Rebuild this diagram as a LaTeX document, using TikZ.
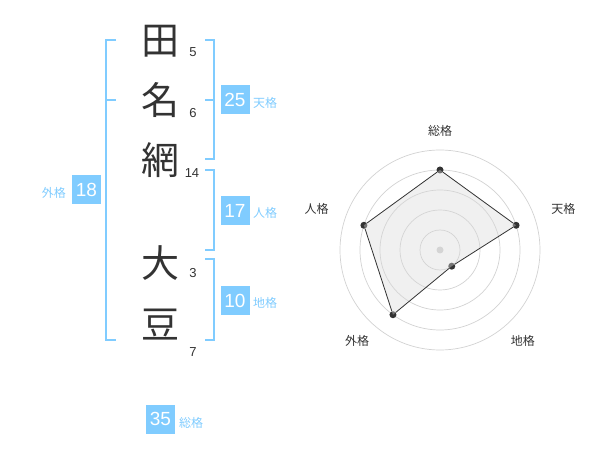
\documentclass[tikz,border=0pt]{standalone}
\usepackage{fontspec}
\setmainfont{Liberation Sans}
\newfontfamily\jp{Noto Sans CJK JP}
\definecolor{kakublue}{RGB}{128,204,255}
\definecolor{ink}{RGB}{51,51,51}
\definecolor{ring}{RGB}{210,210,210}
\begin{document}
\begin{tikzpicture}
  [x=1pt,y=-1pt,
   char/.style={font=\jp\fontsize{38}{38}\selectfont,text=ink,inner sep=0pt},
   strokes/.style={font=\fontsize{13}{13}\selectfont,text=ink,inner sep=0pt},
   kakubox/.style={fill=kakublue,text=white,minimum size=29pt,inner sep=0pt,font=\fontsize{19}{19}\selectfont},
   kakuname/.style={text=kakublue,font=\jp\fontsize{12}{12}\selectfont,inner sep=0pt},
   brace/.style={draw=kakublue,line width=1.6pt},
   axisname/.style={font=\jp\fontsize{12}{12}\selectfont,text=ink,inner sep=0pt},
   dot/.style={circle,fill=ink,inner sep=0pt,minimum size=7pt}]
  \useasboundingbox (0,0) rectangle (600,470);

  % name
  \node[char] (c1) at (160,41) {田};
  \node[char] (c2) at (160,100) {名};
  \node[char] (c3) at (160,160) {網};
  \node[char] (c4) at (160,263) {大};
  \node[char] (c5) at (160,325) {豆};
  \node[strokes] (s1) at (193,52) {5};
  \node[strokes] (s2) at (193,113) {6};
  \node[strokes] (s3) at (192,173) {14};
  \node[strokes] (s4) at (193,273) {3};
  \node[strokes] (s5) at (193,352) {7};

  % brackets
  \draw[brace] (116,40) -- (106,40) -- (106,340) -- (116,340) (106,100) -- (116,100);
  \draw[brace] (205,40) -- (214,40) -- (214,159) -- (205,159) (214,100) -- (205,100);
  \draw[brace] (205,170) -- (214,170) -- (214,250) -- (205,250);
  \draw[brace] (205,259) -- (214,259) -- (214,340) -- (205,340);

  % kaku
  \node[kakubox] (ten) at (235,100) {25};
  \node[kakuname,anchor=west] (tenname) at (253,103) {天格};
  \node[kakubox] (jin) at (235,210.5) {17};
  \node[kakuname,anchor=west] (jinname) at (253,213) {人格};
  \node[kakubox] (chi) at (235,300.5) {10};
  \node[kakuname,anchor=west] (chiname) at (253,303) {地格};
  \node[kakubox] (gai) at (86.5,190) {18};
  \node[kakuname,anchor=east] (gainame) at (66,193) {外格};
  \node[kakubox] (sou) at (160.5,419) {35};
  \node[kakuname,anchor=west] (souname) at (179,423) {総格};

  % radar
  \begin{scope}[shift={(440,250)},y=1pt]
    \foreach \r in {20,40,60,80,100}
      \draw[ring,line width=.7pt] (0,0) circle (\r);
    \fill[ring] (0,0) circle (3.5);
    \node[dot] (p1) at (90:80) {};
    \node[dot] (p2) at (18:80) {};
    \node[dot] (p3) at (-54:20) {};
    \node[dot] (p4) at (-126:80) {};
    \node[dot] (p5) at (162:80) {};
    \fill[gray!30,fill opacity=.4] (p1.center) -- (p2.center) -- (p3.center) -- (p4.center) -- (p5.center) -- cycle;
    \path[draw=ink,line width=.8pt]
      (p1) -- (p2) -- (p3) -- (p4) -- (p5) -- (p1);
    \node[axisname] (a1) at (90:119) {総格};
    \node[axisname] (a2) at (18.4:130) {天格};
    \node[axisname] (a3) at (-47.6:123) {地格};
    \node[axisname] (a4) at (-132.4:123) {外格};
    \node[axisname] (a5) at (161.6:130) {人格};
  \end{scope}
\end{tikzpicture}
\end{document}
